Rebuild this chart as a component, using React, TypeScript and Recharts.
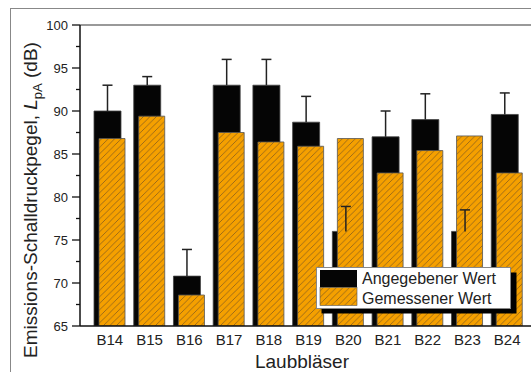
import React from "react"
import { Bar, BarChart, Label, ReferenceLine, XAxis, YAxis } from "recharts"

const categories = ["B14", "B15", "B16", "B17", "B18", "B19", "B20", "B21", "B22", "B23", "B24"]
const angegeben = [90, 93, 70.8, 93, 93, 88.7, 76, 87, 89, 76, 89.6]
const angegebenFehler = [3, 1, 3.1, 3, 3, 3, 2.9, 3, 3, 2.5, 2.5]
const gemessen = [86.8, 89.4, 68.6, 87.5, 86.4, 85.9, 86.8, 82.8, 85.4, 87.1, 82.8]
const yTicks = [65, 67.5, 70, 72.5, 75, 77.5, 80, 82.5, 85, 87.5, 90, 92.5, 95, 97.5, 100]

const ORANGE = "#F5A000"
const FONT = "'Liberation Sans', Arial, sans-serif"

const data = categories.map((name, i) => ({
  name,
  ang: angegeben[i],
  angRange: [angegeben[i], angegeben[i] + angegebenFehler[i]],
  gem: gemessen[i],
}))

const YTick = (props: any) => {
  const { x, y, payload } = props
  const major = payload.value % 5 === 0
  return (
    <g>
      <line x1={x - (major ? 8 : 4)} x2={x} y1={y} y2={y} stroke="#111" strokeWidth={1.3} />
      {major && (
        <text x={x - 12} y={y + 4.5} textAnchor="end" fontSize={13} fill="#222" fontFamily={FONT}>
          {payload.value}
        </text>
      )}
    </g>
  )
}

// one-sided error bar: vertical stroke plus a cap on top only
const ErrShape = (props: any) => {
  const { x, y, width, height } = props
  if (x == null || y == null) return null
  const cx = x + width / 2
  return (
    <g stroke="#222" strokeWidth={1.5}>
      <line x1={cx} x2={cx} y1={y} y2={y + height} />
      <line x1={cx - 5} x2={cx + 5} y1={y} y2={y} />
    </g>
  )
}

const HatchDef = ({ id }: { id: string }) => (
  <pattern id={id} patternUnits="userSpaceOnUse" width={6.5} height={6.5}>
    <rect width={6.5} height={6.5} fill={ORANGE} />
    <path d="M-1,1 l2,-2 M0,6.5 l6.5,-6.5 M5.5,7.5 l2,-2" stroke="#7a5620" strokeWidth={0.7} />
  </pattern>
)

export default function App() {
  return (
    <div style={{ position: "relative", width: 531, height: 372, overflow: "hidden", fontFamily: FONT, background: "#fff" }}>
      <style>{"body{margin:0}"}</style>
      <div style={{ position: "absolute", left: 10, top: 8, width: 600, height: 400, border: "1.5px solid #888" }} />
      <div style={{ position: "absolute", left: 0, top: 0 }}>
        <BarChart
          width={560}
          height={372}
          data={data}
          margin={{ top: 25, right: 23, bottom: 0, left: 0 }}
          barGap={-22}
        >
          <defs>
            <HatchDef id="hatch" />
          </defs>
          <XAxis
            dataKey="name"
            padding={{ left: 10, right: 10 }}
            tickLine={false}
            axisLine={{ stroke: "#111", strokeWidth: 1.5 }}
            tick={{ fontSize: 15, fill: "#222", fontFamily: FONT }}
            tickMargin={2}
            height={46}
            interval={0}
          >
            <Label
              content={(p: any) => (
                <text x={p.viewBox.x + 222} y={p.viewBox.y + 42} textAnchor="middle" fontSize={19} fill="#222" fontFamily={FONT}>
                  Laubbläser
                </text>
              )}
            />
          </XAxis>
          <XAxis xAxisId="e" dataKey="name" padding={{ left: 10, right: 10 }} hide />
          <YAxis
            domain={[65, 100]}
            ticks={yTicks}
            interval={0}
            width={80}
            tickSize={0}
            tickMargin={0}
            tick={<YTick />}
            axisLine={{ stroke: "#111", strokeWidth: 1.5 }}
            allowDataOverflow
          >
            <Label
              content={() => (
                <text
                  x={37}
                  y={200}
                  transform="rotate(-90 37 200)"
                  textAnchor="middle"
                  fontSize={19}
                  fill="#222"
                  fontFamily={FONT}
                >
                  Emissions-Schalldruckpegel,{" "}
                  <tspan fontStyle="italic">L</tspan>
                  <tspan fontSize={13} dy={5}>pA</tspan>
                  <tspan dy={-5}> (dB)</tspan>
                </text>
              )}
            />
          </YAxis>
          <ReferenceLine y={100} stroke="#777" strokeWidth={1.5} />
          <Bar dataKey="ang" barSize={27} fill="#050505" stroke="#444" strokeWidth={0.8} isAnimationActive={false} />
          <Bar dataKey="gem" barSize={26} fill="url(#hatch)" stroke="#555" strokeWidth={0.8} isAnimationActive={false} />
          <Bar xAxisId="e" dataKey="angRange" barSize={27} shape={<ErrShape />} isAnimationActive={false} />
          <Bar xAxisId="e" dataKey="gem" barSize={26} fill="transparent" isAnimationActive={false} />
        </BarChart>
      </div>
      <svg style={{ position: "absolute", left: 0, top: 0 }} width={531} height={372} pointerEvents="none">
        <defs>
          <HatchDef id="hatchLegend" />
        </defs>
        <rect x={321.5} y={272.5} width={195} height={41} fill="#000" />
        <rect x={316.5} y={267.5} width={194} height={41} fill="#fff" stroke="#888" strokeWidth={1} />
        <rect x={320} y={270} width={37} height={17.5} fill="#050505" />
        <rect x={320} y={287.5} width={37} height={18} fill="url(#hatchLegend)" stroke="#555" strokeWidth={0.6} />
        <text x={362} y={284} fontSize={16} fill="#222" fontFamily={FONT}>Angegebener Wert</text>
        <text x={362} y={303.5} fontSize={16} fill="#222" fontFamily={FONT}>Gemessener Wert</text>
      </svg>
    </div>
  )
}
